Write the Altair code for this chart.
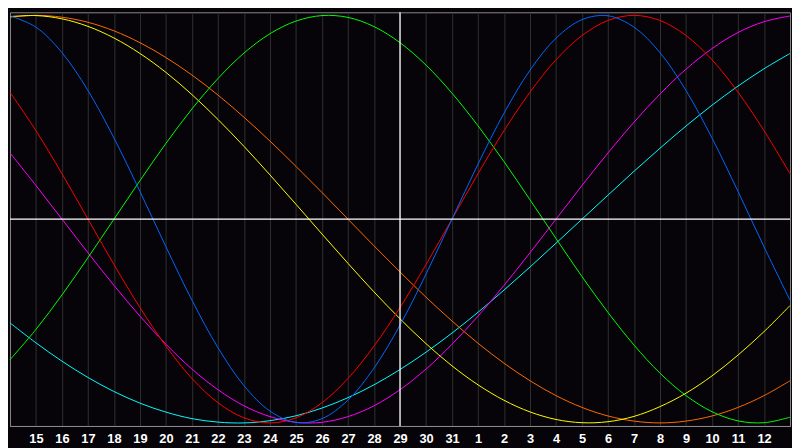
import altair as alt
import pandas as pd

# day index across the window (0 = left edge, 30 = right edge)
days = list(range(31))
# calendar day shown at each index
tick_labels = ["14", "15", "16", "17", "18", "19", "20", "21", "22", "23", "24",
               "25", "26", "27", "28", "29", "30", "31", "1", "2", "3", "4", "5",
               "6", "7", "8", "9", "10", "11", "12", "13"]

physical = [0.998, 0.942, 0.817, 0.631, 0.398, 0.136, -0.136, -0.398, -0.631, -0.817,
            -0.942, -0.998, -0.979, -0.888, -0.731, -0.520, -0.270, 0.0, 0.270, 0.520,
            0.731, 0.888, 0.979, 0.998, 0.942, 0.817, 0.631, 0.398, 0.136, -0.136, -0.398]
emotional = [0.623, 0.434, 0.223, 0.0, -0.223, -0.434, -0.623, -0.782, -0.901, -0.975,
             -1.0, -0.975, -0.901, -0.782, -0.623, -0.434, -0.223, 0.0, 0.223, 0.434,
             0.623, 0.782, 0.901, 0.975, 1.0, 0.975, 0.901, 0.782, 0.623, 0.434, 0.223]
intellectual = [-0.690, -0.541, -0.372, -0.189, 0.0, 0.189, 0.372, 0.541, 0.690, 0.815,
                0.910, 0.972, 0.999, 0.990, 0.945, 0.866, 0.756, 0.618, 0.458, 0.282,
                0.095, -0.095, -0.282, -0.458, -0.618, -0.756, -0.866, -0.945, -0.990,
                -0.999, -0.972]
intuitive = [0.325, 0.165, 0.0, -0.165, -0.325, -0.476, -0.614, -0.736, -0.837, -0.916,
             -0.969, -0.997, -0.997, -0.969, -0.916, -0.837, -0.736, -0.614, -0.476,
             -0.325, -0.165, 0.0, 0.165, 0.325, 0.476, 0.614, 0.736, 0.837, 0.916,
             0.969, 0.997]
aesthetic = [0.994, 0.999, 0.983, 0.946, 0.889, 0.813, 0.720, 0.611, 0.489, 0.357,
             0.217, 0.073, -0.073, -0.217, -0.357, -0.489, -0.611, -0.720, -0.813,
             -0.889, -0.946, -0.983, -0.999, -0.994, -0.968, -0.920, -0.854, -0.769,
             -0.667, -0.552, -0.424]
awareness = [0.991, 1.0, 0.991, 0.966, 0.924, 0.866, 0.793, 0.707, 0.609, 0.5, 0.383,
             0.259, 0.131, 0.0, -0.131, -0.259, -0.383, -0.5, -0.609, -0.707, -0.793,
             -0.866, -0.924, -0.966, -0.991, -1.0, -0.991, -0.966, -0.924, -0.866, -0.793]
spiritual = [-0.509, -0.607, -0.697, -0.777, -0.846, -0.903, -0.947, -0.979, -0.996,
             -1.0, -0.989, -0.965, -0.927, -0.876, -0.813, -0.738, -0.653, -0.559,
             -0.457, -0.348, -0.235, -0.118, 0.0, 0.118, 0.235, 0.348, 0.457, 0.559,
             0.653, 0.738, 0.813]

series_names = ["spiritual", "awareness", "aesthetic", "intuitive",
                "intellectual", "emotional", "physical"]
series_values = [spiritual, awareness, aesthetic, intuitive,
                 intellectual, emotional, physical]
series_colors = ["#00ffff", "#ff6a00", "#ffff00", "#ff00ff",
                 "#00ff00", "#ff0000", "#0068ff"]

rows = []
for name, vals in zip(series_names, series_values):
    for d, v in zip(days, vals):
        rows.append({"t": d, "v": v, "s": name})
df = pd.DataFrame(rows)

label_expr = "[" + ",".join("'%s'" % l for l in tick_labels) + "][datum.value]"

x_scale = alt.Scale(domain=[0, 30], nice=False, zero=False)
x_axis = alt.Axis(
    values=days[1:30],
    labelExpr=label_expr,
    grid=True,
    gridColor="#303030",
    gridWidth=1,
    domainColor="#8a8a8a",
    ticks=False,
    labelColor="#ffffff",
    labelFont="Liberation Sans",
    labelFontWeight="bold",
    labelFontSize=13,
    labelPadding=7,
    labelFlush=False,
    labelOverlap=False,
    labelSeparation=0,
    title=None,
)
y_scale = alt.Scale(domain=[-1.015, 1.015], nice=False, zero=False)

lines = alt.Chart(df).mark_line(strokeWidth=1, interpolate="catmull-rom").encode(
    x=alt.X("t:Q", scale=x_scale, axis=x_axis),
    y=alt.Y("v:Q", scale=y_scale, axis=None),
    color=alt.Color("s:N", scale=alt.Scale(domain=series_names, range=series_colors),
                    legend=None),
    detail="s:N",
)

vrule = alt.Chart().mark_rule(color="#ffffff", strokeWidth=1.3).encode(
    x=alt.XDatum(15, scale=x_scale, axis=x_axis)
)
hrule = alt.Chart().mark_rule(color="#ffffff", strokeWidth=1.3).encode(
    y=alt.YDatum(0, scale=y_scale, axis=None)
)

chart = alt.layer(lines, vrule, hrule).properties(
    width=792, height=420, padding=0, background="#060409"
).configure_view(
    stroke="#8a8a8a", strokeWidth=1
).configure_axisX(
    labelOverlap=False
)

chart.save("out.html", embed_options={"renderer": "svg", "actions": False})
